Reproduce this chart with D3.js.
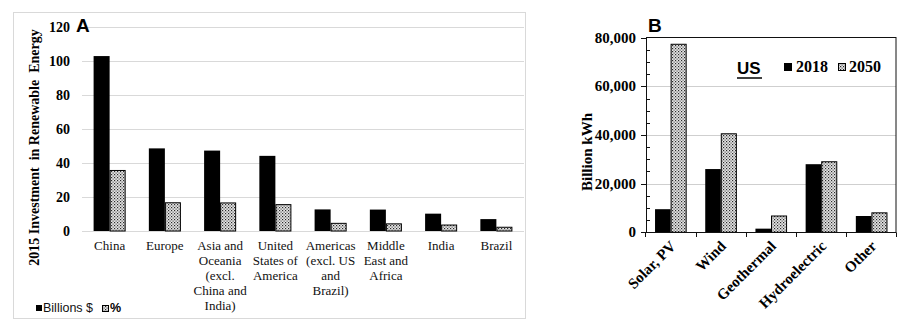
<!DOCTYPE html>
<html>
<head>
<meta charset="utf-8">
<script src="https://cdn.jsdelivr.net/npm/d3@7"></script>
<style>
  html, body { margin: 0; padding: 0; background: #fff; }
  svg { display: block; }
</style>
</head>
<body>
<svg id="chart" width="910" height="334"></svg>
<script>
// Panel A: 2015 investment in renewable energy by region
const regions = ["China", "Europe", "Asia and Oceania (excl. China and India)", "United States of America",
  "Americas (excl. US and Brazil)", "Middle East and Africa", "India", "Brazil"];
const regionLines = [["China"], ["Europe"], ["Asia and", "Oceania", "(excl.", "China and", "India)"],
  ["United", "States of", "America"], ["Americas", "(excl. US", "and", "Brazil)"],
  ["Middle", "East and", "Africa"], ["India"], ["Brazil"]];
const billions = [102.9, 48.6, 47.3, 44.2, 12.7, 12.6, 10.2, 7.0];
const percent = [35.9, 16.9, 16.8, 15.8, 4.8, 4.5, 3.8, 2.5];
const ticksA = [0, 20, 40, 60, 80, 100, 120];

// Panel B: US renewable generation, 2018 vs 2050
const sources = ["Solar, PV", "Wind", "Geothermal", "Hydroelectric", "Other"];
const gen2018 = [9500, 26000, 1500, 28000, 6700];
const gen2050 = [77300, 40500, 6700, 29000, 8000];
const ticksB = [0, 20000, 40000, 60000, 80000];

const svg = d3.select("#chart");
const serif = "Liberation Serif, Times New Roman, serif";
const sans = "Liberation Sans, Arial, sans-serif";

// stippled fill used for the second series
const defs = svg.append("defs");
const pat = defs.append("pattern").attr("id", "dots")
  .attr("patternUnits", "userSpaceOnUse").attr("width", 3).attr("height", 3);
pat.append("rect").attr("width", 3).attr("height", 3).attr("fill", "#e6e6e6");
pat.append("rect").attr("x", 0).attr("y", 0).attr("width", 1.2).attr("height", 1.2).attr("fill", "#2a2a2a");
pat.append("rect").attr("x", 1.5).attr("y", 1.5).attr("width", 1.2).attr("height", 1.2).attr("fill", "#555");

// ---------- Panel A ----------
const gA = svg.append("g");
gA.append("rect").attr("x", 13.5).attr("y", 12.5).attr("width", 512).attr("height", 306)
  .attr("fill", "none").attr("stroke", "#d9d9d9");

const yA = d3.scaleLinear().domain([0, 120]).range([231, 27]);
const xA = d3.scaleBand().domain(regions).range([82, 524]).paddingInner(0.42).paddingOuter(0.21);
const xA1 = d3.scaleBand().domain(["b", "p"]).range([0, xA.bandwidth()]);

gA.append("g").selectAll("line").data(ticksA).join("line")
  .attr("x1", 82).attr("x2", 524)
  .attr("y1", d => Math.round(yA(d)) + 0.5).attr("y2", d => Math.round(yA(d)) + 0.5)
  .attr("stroke", "#d9d9d9").attr("stroke-width", 1);

gA.append("g").selectAll("text").data(ticksA).join("text")
  .attr("x", 70).attr("y", d => yA(d) + 5)
  .attr("text-anchor", "end").attr("font-family", serif).attr("font-weight", "bold")
  .attr("font-size", 14).text(d => d);

gA.append("g").selectAll("rect").data(regions).join("rect")
  .attr("x", (d) => xA(d) + xA1("b"))
  .attr("y", (d, i) => yA(billions[i]))
  .attr("width", xA1.bandwidth())
  .attr("height", (d, i) => yA(0) - yA(billions[i]))
  .attr("fill", "#000");

gA.append("g").selectAll("rect").data(regions).join("rect")
  .attr("x", (d) => xA(d) + xA1("p") + 0.5)
  .attr("y", (d, i) => yA(percent[i]) + 0.5)
  .attr("width", xA1.bandwidth() - 1)
  .attr("height", (d, i) => yA(0) - yA(percent[i]) - 0.5)
  .attr("fill", "url(#dots)").attr("stroke", "#000").attr("stroke-width", 1);

const labA = gA.append("g").selectAll("text").data(regions).join("text")
  .attr("text-anchor", "middle").attr("font-family", serif).attr("font-size", 13)
  .attr("fill", "#111");
labA.each(function (d, i) {
  const t = d3.select(this);
  regionLines[i].forEach((ln, j) => {
    t.append("tspan").attr("x", xA(d) + xA.bandwidth() / 2).attr("y", 250 + j * 15).text(ln);
  });
});

gA.append("text").attr("transform", "translate(39,147.5) rotate(-90)")
  .attr("text-anchor", "middle").attr("font-family", serif).attr("font-weight", "bold")
  .attr("font-size", 14).attr("xml:space", "preserve")
  .text("2015 Investment  in Renewable  Energy");

gA.append("text").attr("x", 76).attr("y", 32).attr("font-family", sans)
  .attr("font-weight", "bold").attr("font-size", 19).text("A");

// legend A
gA.append("rect").attr("x", 36).attr("y", 305).attr("width", 6).attr("height", 6).attr("fill", "#000");
gA.append("text").attr("x", 43).attr("y", 312).attr("font-family", sans).attr("font-size", 12.5)
  .attr("fill", "#111").text("Billions $");
gA.append("rect").attr("x", 102.5).attr("y", 305.5).attr("width", 6).attr("height", 6)
  .attr("fill", "url(#dots)").attr("stroke", "#000");
gA.append("text").attr("x", 110).attr("y", 312).attr("font-family", sans).attr("font-weight", "bold")
  .attr("font-size", 12.5).text("%");

// ---------- Panel B ----------
const gB = svg.append("g");
const yB = d3.scaleLinear().domain([0, 80000]).range([232.3, 37.7]);
const xB = d3.scaleBand().domain(sources).range([646, 896]).paddingInner(0.36).paddingOuter(0.17);
const xB1 = d3.scaleBand().domain(["a", "b"]).range([0, xB.bandwidth()]);

gB.append("g").selectAll("line").data(ticksB.filter(d => d > 0 && d < 80000)).join("line")
  .attr("x1", 646).attr("x2", 896)
  .attr("y1", d => Math.round(yB(d)) + 0.5).attr("y2", d => Math.round(yB(d)) + 0.5)
  .attr("stroke", "#cfcfcf").attr("stroke-width", 1);

gB.append("g").selectAll("rect").data(sources).join("rect")
  .attr("x", d => xB(d) + xB1("a") + 0.5)
  .attr("y", (d, i) => yB(gen2018[i]))
  .attr("width", xB1.bandwidth() - 0.5)
  .attr("height", (d, i) => yB(0) - yB(gen2018[i]))
  .attr("fill", "#000");

gB.append("g").selectAll("rect").data(sources).join("rect")
  .attr("x", d => xB(d) + xB1("b") + 0.5)
  .attr("y", (d, i) => yB(gen2050[i]))
  .attr("width", xB1.bandwidth() - 1)
  .attr("height", (d, i) => yB(0) - yB(gen2050[i]))
  .attr("fill", "url(#dots)").attr("stroke", "#000").attr("stroke-width", 1);

// plot frame
gB.append("rect").attr("x", 646.5).attr("y", 37.5).attr("width", 249.5).attr("height", 195)
  .attr("fill", "none").attr("stroke", "#111").attr("stroke-width", 1);

// y ticks: major outside, minor inside every 5,000
const minor = d3.range(0, 80001, 5000).filter(v => v % 20000 !== 0);
gB.append("g").selectAll("line").data(ticksB).join("line")
  .attr("x1", 641).attr("x2", 646.5)
  .attr("y1", d => Math.round(yB(d)) + 0.5).attr("y2", d => Math.round(yB(d)) + 0.5)
  .attr("stroke", "#111");
gB.append("g").selectAll("line").data(minor).join("line")
  .attr("x1", 646.5).attr("x2", 650)
  .attr("y1", d => Math.round(yB(d)) + 0.5).attr("y2", d => Math.round(yB(d)) + 0.5)
  .attr("stroke", "#111");

// x ticks at category boundaries
const bounds = sources.map(d => xB(d) - xB.step() * 0.18).concat([896]);
gB.append("g").selectAll("line").data(bounds).join("line")
  .attr("x1", d => Math.round(d) + 0.5).attr("x2", d => Math.round(d) + 0.5)
  .attr("y1", 232.5).attr("y2", 237).attr("stroke", "#111");

gB.append("g").selectAll("text").data(ticksB).join("text")
  .attr("x", 636).attr("y", d => yB(d) + 5)
  .attr("text-anchor", "end").attr("font-family", serif).attr("font-weight", "bold")
  .attr("font-size", 15).text(d => d3.format(",")(d));

gB.append("g").selectAll("text").data(sources).join("text")
  .attr("transform", d => `translate(${xB(d) + xB.bandwidth() / 2 + 6},247) rotate(-45)`)
  .attr("text-anchor", "end").attr("font-family", serif).attr("font-weight", "bold")
  .attr("font-size", 15).text(d => d);

gB.append("text").attr("transform", "translate(592,152) rotate(-90)")
  .attr("text-anchor", "middle").attr("font-family", serif).attr("font-weight", "bold")
  .attr("font-size", 15).text("Billion kWh");

gB.append("text").attr("x", 648).attr("y", 32).attr("font-family", sans)
  .attr("font-weight", "bold").attr("font-size", 19).text("B");

// legend B
gB.append("text").attr("x", 737).attr("y", 74).attr("font-family", sans)
  .attr("font-weight", "bold").attr("font-size", 17).text("US");
gB.append("line").attr("x1", 737).attr("x2", 762).attr("y1", 78).attr("y2", 78)
  .attr("stroke", "#000").attr("stroke-width", 1.5);
gB.append("rect").attr("x", 784).attr("y", 63).attr("width", 8).attr("height", 8).attr("fill", "#000");
gB.append("text").attr("x", 796).attr("y", 72).attr("font-family", serif)
  .attr("font-weight", "bold").attr("font-size", 16).text("2018");
gB.append("rect").attr("x", 838.5).attr("y", 63.5).attr("width", 7).attr("height", 7)
  .attr("fill", "url(#dots)").attr("stroke", "#000");
gB.append("text").attr("x", 849).attr("y", 72).attr("font-family", serif)
  .attr("font-weight", "bold").attr("font-size", 16).text("2050");
</script>
</body>
</html>
